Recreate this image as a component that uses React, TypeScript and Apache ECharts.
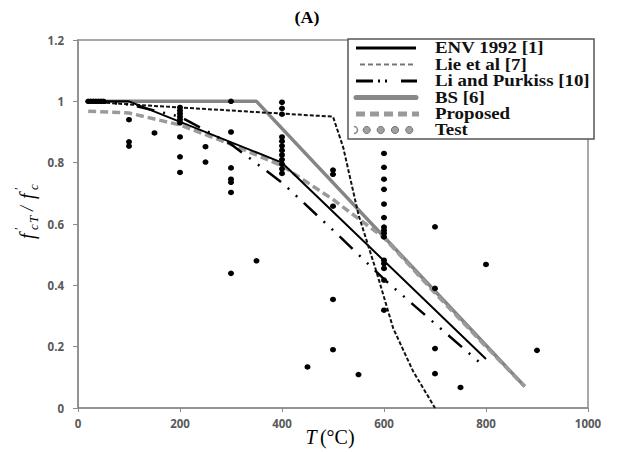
import React, { useEffect, useRef } from "react";
import * as echarts from "echarts";

// Curves (x: temperature °C, y: f'cT/f'c)
const envData: number[][] = [[20, 1], [100, 1], [400, 0.8], [800, 0.16]];
const lieData: number[][] = [[20, 1], [100, 0.99], [500, 0.95], [520, 0.85], [550, 0.63], [586, 0.44], [618, 0.26], [657, 0.12], [700, 0]];
const liPurkissData: number[][] = [[20, 1], [100, 0.99], [200, 0.95], [300, 0.86], [400, 0.735], [500, 0.58], [600, 0.42], [700, 0.275], [790, 0.145]];
const bsData: number[][] = [[20, 1], [350, 1], [876, 0.07]];
const proposedData: number[][] = [[20, 0.968], [100, 0.962], [200, 0.923], [300, 0.86], [400, 0.79], [500, 0.68], [600, 0.555], [700, 0.375], [800, 0.2], [876, 0.07]];
const testData: number[][] = [
  [20, 1.0], [25, 1.0], [30, 1.0], [35, 1.0], [40, 1.0], [45, 1.0], [50, 1.0],
  [100, 0.94], [100, 0.868], [100, 0.854],
  [150, 0.897],
  [200, 0.98], [200, 0.97], [200, 0.96], [200, 0.95], [200, 0.94], [200, 0.93], [200, 0.884], [200, 0.819], [200, 0.768],
  [250, 0.852], [250, 0.802],
  [300, 1.0], [300, 0.9], [300, 0.783], [300, 0.746], [300, 0.736], [300, 0.703], [300, 0.439],
  [350, 0.48],
  [400, 0.997], [400, 0.977], [400, 0.958], [400, 0.884], [400, 0.87], [400, 0.855], [400, 0.84], [400, 0.825], [400, 0.81], [400, 0.795], [400, 0.78], [400, 0.765],
  [450, 0.134],
  [500, 0.776], [500, 0.762], [500, 0.658], [500, 0.354], [500, 0.19],
  [550, 0.109],
  [600, 0.83], [600, 0.785], [600, 0.746], [600, 0.713], [600, 0.665], [600, 0.621], [600, 0.59], [600, 0.58], [600, 0.57], [600, 0.558], [600, 0.482], [600, 0.471], [600, 0.455], [600, 0.417], [600, 0.319],
  [700, 0.591], [700, 0.39], [700, 0.194], [700, 0.112],
  [750, 0.067],
  [800, 0.468],
  [900, 0.188],
];

const legendLabels = ["ENV 1992 [1]", "Lie et al [7]", "Li and Purkiss [10]", "BS [6]", "Proposed", "Test"];
const titleText = "(A)";

const AXIS_GRAY = "#8c8c8c";
const LABEL_GRAY = "#595959";
const SERIF = "'Liberation Serif', 'Times New Roman', serif";

export default function App() {
  const ref = useRef<HTMLDivElement>(null);

  useEffect(() => {
    if (!ref.current) return;
    const chart = echarts.init(ref.current, undefined, { renderer: "svg" });

    const rowY = [48, 64.5, 81, 97.5, 114, 130];
    const lx1 = 356;
    const lx2 = 416;
    const textX = 435;

    const legendChildren: any[] = [
      {
        type: "rect",
        shape: { x: 348, y: 39, width: 246, height: 100 },
        style: { fill: "#fff", stroke: "#555", lineWidth: 1.5 },
      },
      { type: "line", shape: { x1: lx1, y1: rowY[0], x2: lx2, y2: rowY[0] }, style: { stroke: "#000", lineWidth: 3 } },
      { type: "line", shape: { x1: lx1 + 4, y1: rowY[1], x2: lx2, y2: rowY[1] }, style: { stroke: "#777", lineWidth: 2, lineDash: [5, 3] } },
      { type: "line", shape: { x1: lx1, y1: rowY[2], x2: lx2 + 1, y2: rowY[2] }, style: { stroke: "#000", lineWidth: 3, lineDash: [17, 5, 2, 5, 2, 14] } },
      { type: "line", shape: { x1: lx1, y1: rowY[3], x2: lx2, y2: rowY[3] }, style: { stroke: "#888", lineWidth: 5, lineCap: "round" } },
      { type: "line", shape: { x1: lx1, y1: rowY[4], x2: lx2 + 3, y2: rowY[4] }, style: { stroke: "#999", lineWidth: 5, lineDash: [9, 5] } },
      { type: "arc", shape: { cx: 354, cy: rowY[5], r: 3.5, startAngle: -Math.PI / 2, endAngle: Math.PI / 2 }, style: { stroke: "#888", lineWidth: 1.5, fill: "none" } },
    ];
    [366.7, 380.7, 395, 409.3].forEach((cx) => {
      legendChildren.push({
        type: "circle",
        shape: { cx, cy: rowY[5], r: 3.6 },
        style: { fill: "#a0a0a0", stroke: "#777", lineWidth: 1 },
      });
    });
    legendLabels.forEach((t, i) => {
      legendChildren.push({
        type: "text",
        x: textX,
        y: rowY[i],
        scaleX: 1.18,
        style: {
          text: t,
          font: `bold 16px ${SERIF}`,
          fill: "#111",
          verticalAlign: "middle",
          align: "left",
        },
      });
    });

    const tickLabel = {
      color: LABEL_GRAY,
      fontFamily: "'Open Sans', sans-serif",
      fontWeight: "bold",
      fontSize: 11.5,
    };

    const option: any = {
      animation: false,
      backgroundColor: "#fff",
      grid: {
        left: 78,
        right: 33,
        top: 40,
        bottom: 44,
        show: true,
        borderColor: AXIS_GRAY,
        borderWidth: 1.5,
        backgroundColor: "transparent",
      },
      xAxis: {
        type: "value",
        min: 0,
        max: 1000,
        interval: 200,
        splitLine: { show: false },
        axisLine: { show: true, onZero: false, lineStyle: { color: AXIS_GRAY, width: 1.5 } },
        axisTick: { show: true, length: 4, lineStyle: { color: AXIS_GRAY } },
        axisLabel: {
          ...tickLabel,
          margin: 9,
          formatter: (v: number) => String(Math.round(v)),
        },
      },
      yAxis: {
        type: "value",
        min: 0,
        max: 1.2,
        interval: 0.2,
        splitLine: { show: false },
        axisLine: { show: true, onZero: false, lineStyle: { color: AXIS_GRAY, width: 1.5 } },
        axisTick: { show: true, length: 5, lineStyle: { color: AXIS_GRAY } },
        axisLabel: {
          ...tickLabel,
          margin: 14,
          formatter: (v: number) => String(parseFloat(v.toFixed(1))),
        },
      },
      series: [
        {
          name: legendLabels[3],
          type: "line",
          data: bsData,
          symbol: "none",
          lineStyle: { color: "#858585", width: 3.5 },
          z: 2,
        },
        {
          name: legendLabels[4],
          type: "line",
          data: proposedData,
          symbol: "none",
          lineStyle: { color: "#9a9a9a", width: 3.5, type: [8, 4] },
          z: 2,
        },
        {
          name: legendLabels[0],
          type: "line",
          data: envData,
          symbol: "none",
          lineStyle: { color: "#000", width: 2 },
          z: 3,
        },
        {
          name: legendLabels[1],
          type: "line",
          data: lieData,
          symbol: "none",
          lineStyle: { color: "#111", width: 2, type: [4, 2] },
          z: 3,
        },
        {
          name: legendLabels[2],
          type: "line",
          data: liPurkissData,
          symbol: "none",
          lineStyle: { color: "#000", width: 2.5, type: [18, 9, 2, 9, 2, 9] },
          z: 3,
        },
        {
          name: legendLabels[5],
          type: "scatter",
          data: testData,
          symbol: "circle",
          symbolSize: [6, 5.5],
          itemStyle: { color: "#000", opacity: 1 },
          z: 4,
        },
      ],
      graphic: [
        {
          type: "text",
          x: 307,
          y: 18,
          scaleX: 1.12,
          style: {
            text: titleText,
            font: `bold 16px ${SERIF}`,
            fill: "#000",
            align: "center",
            verticalAlign: "middle",
          },
        },
        {
          type: "group",
          x: 0,
          y: 0,
          children: legendChildren,
          z: 100,
        },
        {
          type: "text",
          x: 330,
          y: 437,
          style: {
            text: "{t|T} {n|(°C)}",
            align: "center",
            verticalAlign: "middle",
            fill: "#000",
            rich: {
              t: { font: `italic 20px ${SERIF}`, fill: "#000" },
              n: { font: `20px ${SERIF}`, fill: "#000" },
            },
          },
        },
        {
          type: "group",
          x: 27,
          y: 239,
          rotation: Math.PI / 2,
          children: [
            { type: "text", x: 0, y: 0, style: { text: "f", font: `italic 20px ${SERIF}`, fill: "#000", verticalAlign: "middle" } },
            { type: "text", x: 9, y: -9, style: { text: "′", font: `13px ${SERIF}`, fill: "#000", verticalAlign: "middle" } },
            { type: "text", x: 9, y: 6, style: { text: "c", font: `italic 13px ${SERIF}`, fill: "#000", verticalAlign: "middle" } },
            { type: "text", x: 16, y: 6, style: { text: "T", font: `italic 13px ${SERIF}`, fill: "#000", verticalAlign: "middle" } },
            { type: "text", x: 28, y: 0, style: { text: "/", font: `italic 18px ${SERIF}`, fill: "#000", verticalAlign: "middle" } },
            { type: "text", x: 40, y: 0, style: { text: "f", font: `italic 20px ${SERIF}`, fill: "#000", verticalAlign: "middle" } },
            { type: "text", x: 49, y: -9, style: { text: "′", font: `13px ${SERIF}`, fill: "#000", verticalAlign: "middle" } },
            { type: "text", x: 49, y: 6, style: { text: "c", font: `italic 13px ${SERIF}`, fill: "#000", verticalAlign: "middle" } },
          ],
        },
      ],
    };

    chart.setOption(option);
    return () => chart.dispose();
  }, []);

  return (
    <div
      ref={ref}
      style={{ position: "absolute", left: 0, top: 0, width: 621, height: 452, background: "#fff" }}
    />
  );
}
